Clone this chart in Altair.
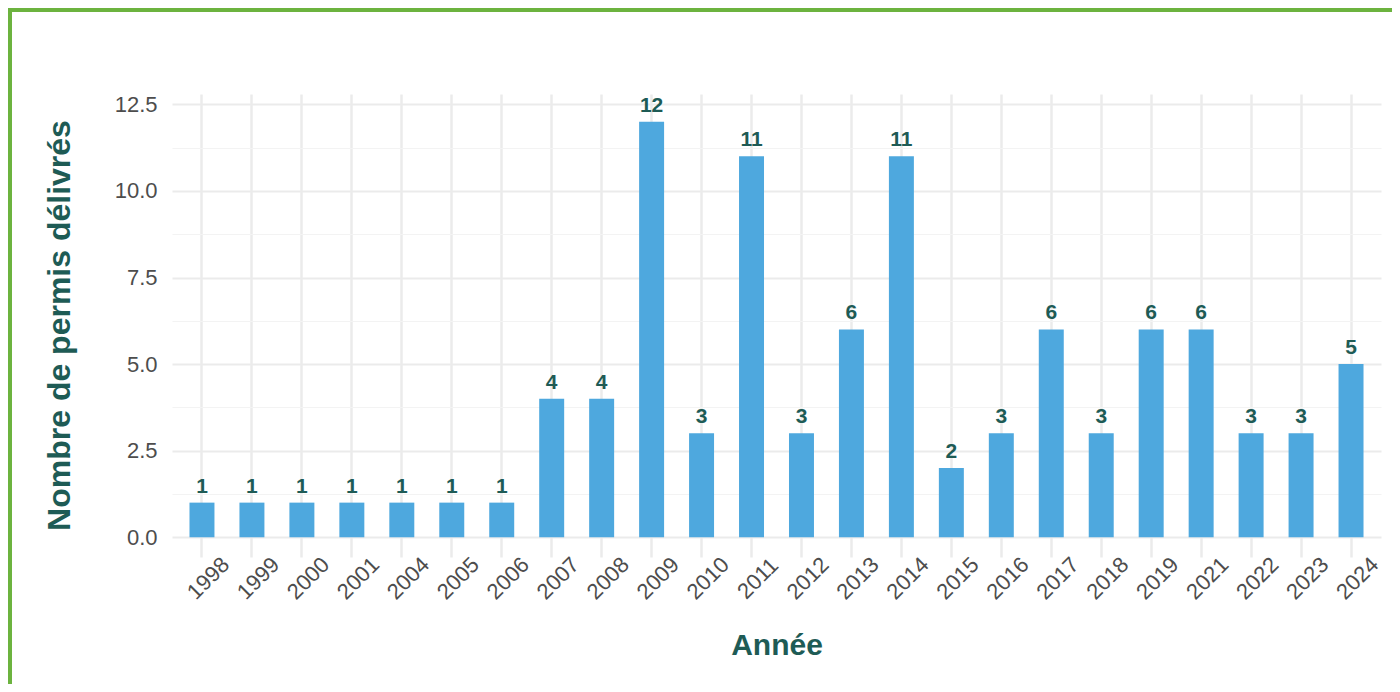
import altair as alt
import pandas as pd

years = ["1998", "1999", "2000", "2001", "2004", "2005", "2006", "2007", "2008",
         "2009", "2010", "2011", "2012", "2013", "2014", "2015", "2016", "2017",
         "2018", "2019", "2021", "2022", "2023", "2024"]
counts = [1, 1, 1, 1, 1, 1, 1, 4, 4, 12, 3, 11, 3, 6, 11, 2, 3, 6, 3, 6, 6, 3, 3, 5]
y_grid = [0, 1.25, 2.5, 3.75, 5, 6.25, 7.5, 8.75, 10, 11.25, 12.5]

df = pd.DataFrame({"Année": years, "n": counts})

TEAL = "#1E5B55"
BLUE = "#4EA8DE"
GREEN = "#6CB33F"
FONT = "Liberation Sans"

x_enc = alt.X(
    "Année:N",
    sort=years,
    scale=alt.Scale(paddingInner=0.5, paddingOuter=0.35),
    axis=alt.Axis(
        title="Année",
        titleFontSize=30, titleFont=FONT, titleFontWeight="bold", titleColor=TEAL,
        titleBaseline="alphabetic", titleY=97,
        labelAngle=315, labelAlign="center", labelBaseline="middle",
        labelPadding=21, labelOffset=6.5,
        labelFontSize=22, labelFont=FONT, labelColor="#4D4D4D",
        grid=True, gridColor="#EBEBEB", gridWidth=2.5,
        domain=False, ticks=False,
    ),
)

y_enc = alt.Y(
    "n:Q",
    scale=alt.Scale(domain=[-0.57, 12.8], nice=False, zero=False),
    axis=alt.Axis(
        title="Nombre de permis délivrés",
        titleFontSize=32, titleFont=FONT, titleFontWeight="bold", titleColor=TEAL,
        titleBaseline="alphabetic", titleX=-103, titleY=231, titleAngle=270,
        values=y_grid,
        labelExpr="datum.value % 2.5 === 0 ? format(datum.value, '.1f') : ''",
        labelFontSize=22, labelFont=FONT, labelColor="#4D4D4D", labelPadding=15,
        grid=True,
        gridColor={"condition": {"test": "datum.value % 2.5 !== 0", "value": "#F3F3F3"}, "value": "#EBEBEB"},
        gridWidth={"condition": {"test": "datum.value % 2.5 !== 0", "value": 1.2}, "value": 2.2},
        domain=False, ticks=False,
    ),
)

base = alt.Chart(df)

bars = base.mark_bar(color=BLUE).encode(x=x_enc, y=y_enc, y2=alt.datum(0))

labels = base.mark_text(
    font=FONT, fontSize=21, fontWeight="bold", color=TEAL,
    baseline="alphabetic", dy=-10,
).encode(x=alt.X("Année:N", sort=years), y=alt.Y("n:Q"), text="n:Q")

border_data = alt.Data(values=[{"k": 1}])
left_border = alt.Chart(border_data).mark_rule(color=GREEN, strokeWidth=4).encode(
    x=alt.value(-162), y=alt.value(-86), y2=alt.value(700)
)
top_border = alt.Chart(border_data).mark_rule(color=GREEN, strokeWidth=4).encode(
    y=alt.value(-84), x=alt.value(-164), x2=alt.value(1300)
)

chart = alt.layer(bars, labels, left_border, top_border).properties(
    width=1209,
    height=463,
    autosize=alt.AutoSizeParams(type="none"),
    padding={"left": 164, "top": 86, "right": 11, "bottom": 127},
).configure(background="white").configure_view(stroke=None)

chart.save("out.html", embed_options={"renderer": "svg", "actions": False})
